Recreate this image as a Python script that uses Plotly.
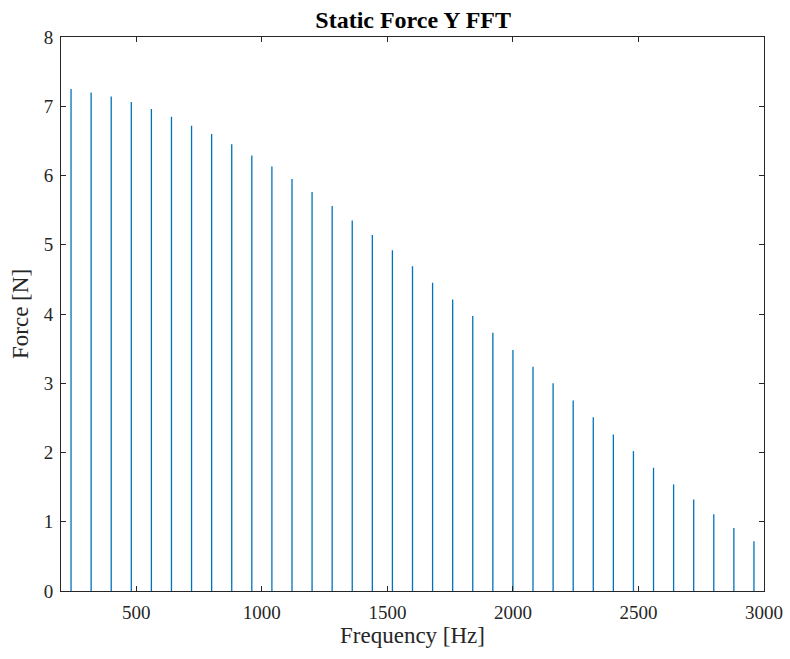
import plotly.graph_objects as go

# Data: FFT peaks (frequency in Hz, force amplitude in N)
freqs = [240 + 80 * i for i in range(35)]
amps = [7.25, 7.20, 7.14, 7.06, 6.96, 6.85, 6.72, 6.60, 6.45, 6.29,
        6.13, 5.95, 5.76, 5.56, 5.35, 5.14, 4.92, 4.69, 4.45, 4.21,
        3.97, 3.73, 3.48, 3.24, 3.00, 2.75, 2.51, 2.26, 2.02, 1.78,
        1.54, 1.32, 1.11, 0.91, 0.72]
x_ticks = [500, 1000, 1500, 2000, 2500, 3000]
y_ticks = [0, 1, 2, 3, 4, 5, 6, 7, 8]

xs, ys = [], []
for f, a in zip(freqs, amps):
    xs += [f, f, None]
    ys += [0, a, None]

fig = go.Figure(go.Scatter(x=xs, y=ys, mode="lines",
                           line=dict(color="#0072BD", width=1.3),
                           hoverinfo="skip", showlegend=False))

axis_common = dict(showline=True, linecolor="#262626", linewidth=1,
                   mirror="ticks", ticks="inside", ticklen=5,
                   tickcolor="#262626", showgrid=False, zeroline=False,
                   automargin=False,
                   tickfont=dict(family="Liberation Serif", size=19, color="#262626"))

fig.update_layout(
    width=790, height=659,
    margin=dict(l=61, r=26, t=37, b=68),
    paper_bgcolor="white", plot_bgcolor="white",
    title=dict(text="<b>Static Force Y FFT</b>", x=0.523, xanchor="center",
               y=0.970, yanchor="middle",
               font=dict(family="Liberation Serif", size=24, color="black")),
    xaxis=dict(range=[200, 3000], tickvals=x_ticks, ticklabelstandoff=4,
               title=dict(text="Frequency [Hz]", standoff=4,
                          font=dict(family="Liberation Serif", size=23, color="#262626")),
               **axis_common),
    yaxis=dict(range=[0, 8], tickvals=y_ticks, ticklabelstandoff=3,
               title=dict(text="Force [N]", standoff=8,
                          font=dict(family="Liberation Serif", size=23, color="#262626")),
               **axis_common),
)

fig.write_html("out.html")
